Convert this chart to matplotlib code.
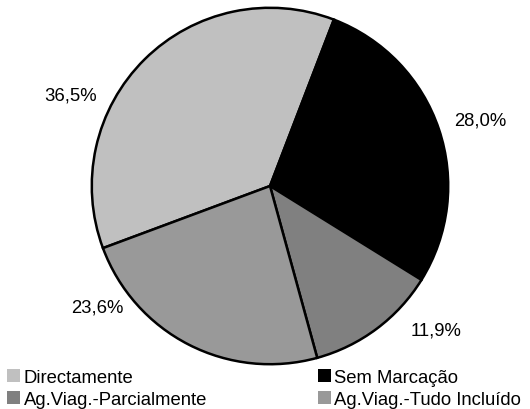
import matplotlib
matplotlib.use('Agg')
import matplotlib.pyplot as plt
from matplotlib.patches import Patch

plt.rcParams['font.family'] = ['Liberation Sans', 'DejaVu Sans']

# dados
categorias = ['Directamente', 'Sem Marcação', 'Ag.Viag.-Parcialmente', 'Ag.Viag.-Tudo Incluído']
valores = [36.5, 28.0, 11.9, 23.6]
cores = ['#c0c0c0', '#000000', '#808080', '#999999']
rotulos = ['36,5%', '28,0%', '11,9%', '23,6%']
# posicao dos rotulos (unidades do raio)
pos_rotulos = [(-1.12, 0.51), (1.18, 0.37), (0.93, -0.81), (-0.97, -0.68)]

fig = plt.figure(figsize=(5.3, 4.1), dpi=100)
ax = fig.add_axes([90/530, 43/410, 360/530, 360/410])

ax.pie(valores, colors=cores, startangle=200.4, counterclock=False,
       wedgeprops=dict(edgecolor='black', linewidth=1.8))
for r, (x, y) in zip(rotulos, pos_rotulos):
    ax.text(x, y, r, ha='center', va='center', fontsize=13.3)
ax.set_xlim(-1.01, 1.01)
ax.set_ylim(-1.01, 1.01)
ax.set_aspect('equal')

handles = [Patch(facecolor=c, edgecolor='none') for c in cores]
ordem = [0, 2, 1, 3]
fig.legend([handles[i] for i in ordem], [categorias[i] for i in ordem],
           ncol=2, loc='lower left', bbox_to_anchor=(6/530, 0.0),
           frameon=False, fontsize=13.3, handlelength=0.7, handleheight=0.7,
           handletextpad=0.2, columnspacing=6.0, labelspacing=0.3,
           borderaxespad=0, borderpad=0.05)

fig.savefig('out.png', dpi=100)
